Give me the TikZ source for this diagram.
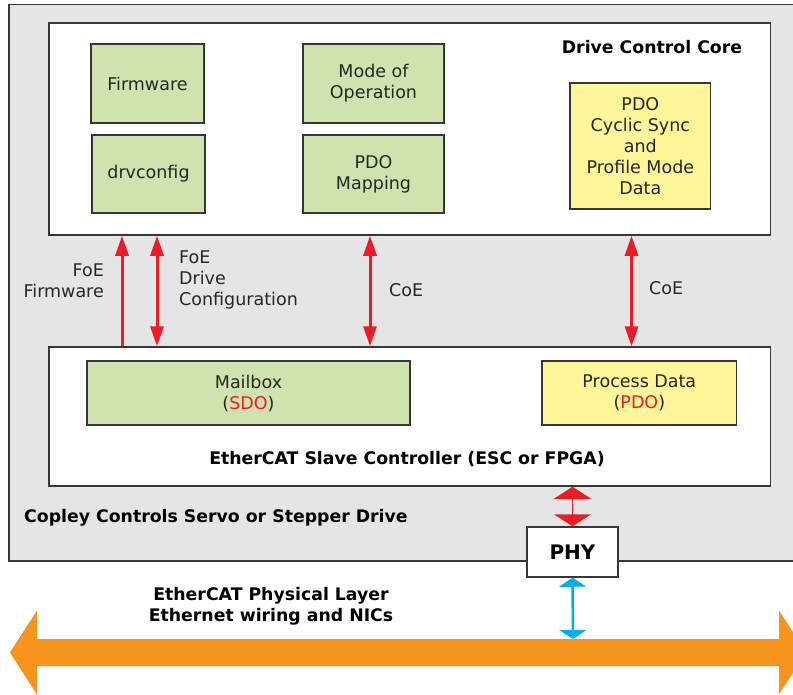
\documentclass[tikz,border=0pt]{standalone}
\usepackage{fontspec}
\setmainfont{DejaVu Sans}
\usetikzlibrary{arrows.meta,calc}
\definecolor{boxgreen}{RGB}{206,227,173}
\definecolor{boxyellow}{RGB}{255,246,153}
\definecolor{bggray}{RGB}{228,229,228}
\definecolor{edge}{RGB}{55,55,55}
\definecolor{arrred}{RGB}{237,28,36}
\definecolor{arrblue}{RGB}{0,174,239}
\definecolor{busorange}{RGB}{247,148,30}
\tikzset{
  txt/.style={font=\fontsize{17.5}{21}\selectfont, inner sep=0pt, align=center, text=black!85},
  btxt/.style={font=\fontsize{17.3}{21}\selectfont\bfseries, inner sep=0pt, align=center},
  gbox/.style={draw=edge, line width=1.5pt, fill=boxgreen, txt},
  ybox/.style={draw=edge, line width=1.5pt, fill=boxyellow, txt},
  wbox/.style={draw=edge, line width=1.5pt, fill=white, inner sep=0pt},
  redarrow/.style={draw=arrred, line width=3pt, {Triangle[width=13pt,length=20pt]}-{Triangle[width=13pt,length=20pt]}},
  redup/.style={draw=arrred, line width=3pt, -{Triangle[width=13pt,length=20pt]}},
  phyred/.style={draw=arrred, line width=1.8pt, {Triangle[width=37pt,length=12pt]}-{Triangle[width=37pt,length=12pt]}},
  phyblue/.style={draw=arrblue, line width=2.5pt, {Triangle[width=27pt,length=9pt]}-{Triangle[width=27pt,length=9pt]}},
}
\begin{document}
\begin{tikzpicture}[x=1pt,y=-1pt]
\useasboundingbox (0,0) rectangle (793,694);
\clip (0,0) rectangle (793,694);
% outer drive box
\draw[edge, line width=1.5pt, fill=bggray] (9,4.5) rectangle (820,561);
% drive control core
\node[wbox, minimum width=721.7pt, minimum height=212pt] (dcc) at (409.85,129) {};
\node[btxt] (dcclabel) at (652,47) {Drive Control Core};
\node[gbox, minimum width=113pt, minimum height=79pt] (fw) at (147.5,83.5) {Firmware};
\node[gbox, minimum width=113pt, minimum height=78pt] (drv) at (148.5,174) {drvconfig};
\node[gbox, minimum width=141pt, minimum height=79pt] (mode) at (373.5,83.5) {Mode of\\Operation};
\node[gbox, minimum width=141pt, minimum height=78pt] (map) at (373.5,174) {PDO\\Mapping};
\node[ybox, minimum width=140.7pt, minimum height=126pt] (cyc) at (640.35,146) {PDO\\Cyclic Sync\\and\\Profile Mode\\Data};
% ESC
\node[wbox, minimum width=721.7pt, minimum height=139pt] (esc) at (409.85,416.5) {};
\node[gbox, minimum width=323pt, minimum height=64pt] (mbx) at (248.5,393) {Mailbox\\(\textcolor{arrred}{SDO})};
\node[ybox, minimum width=194.7pt, minimum height=64pt] (pd) at (639.35,393) {Process Data\\(\textcolor{arrred}{PDO})};
\node[btxt] (esclabel) at (407,459) {EtherCAT Slave Controller (ESC or FPGA)};
\node[btxt, anchor=west] (drivelabel) at (24,518) {Copley Controls Servo or Stepper Drive};
% PHY
\node[wbox, minimum width=91pt, minimum height=50pt, font=\fontsize{20}{24}\selectfont\bfseries] (phy) at (572.5,552) {PHY};
% bus arrow
\fill[busorange] (10,652.5) -- (37,610.5) -- (37,639) -- (779,639) -- (779,610.5) -- (806,652.5) -- (779,694.5) -- (779,666) -- (37,666) -- (37,694.5) -- cycle;
\coordinate (bus) at (573,639);
\node[btxt] (phylabel) at (271,606) {EtherCAT Physical Layer\\Ethernet wiring and NICs};
% vertical arrows
\coordinate (xa) at (122,0);
\coordinate (xb) at (157,0);
\coordinate (xc) at (370,0);
\coordinate (xd) at (631.5,0);
\draw[redup] (esc.north -| xa) -- (dcc.south -| xa);
\draw[redarrow] (esc.north -| xb) -- (dcc.south -| xb);
\draw[redarrow] (esc.north -| xc) -- (dcc.south -| xc);
\draw[redarrow] (esc.north -| xd) -- (dcc.south -| xd);
\node[txt, align=right, anchor=east] (foefw) at (104,281) {FoE\\Firmware};
\node[txt, align=left, anchor=west] (foedc) at (179,280) {FoE\\Drive\\Configuration};
\node[txt, anchor=west] (coe1) at (389,290) {CoE};
\node[txt, anchor=west] (coe2) at (649,288) {CoE};
\draw[phyred] (esc.south -| phy.north) -- (phy.north);
\draw[phyblue] (phy.south) -- (bus);
\end{tikzpicture}
\end{document}
